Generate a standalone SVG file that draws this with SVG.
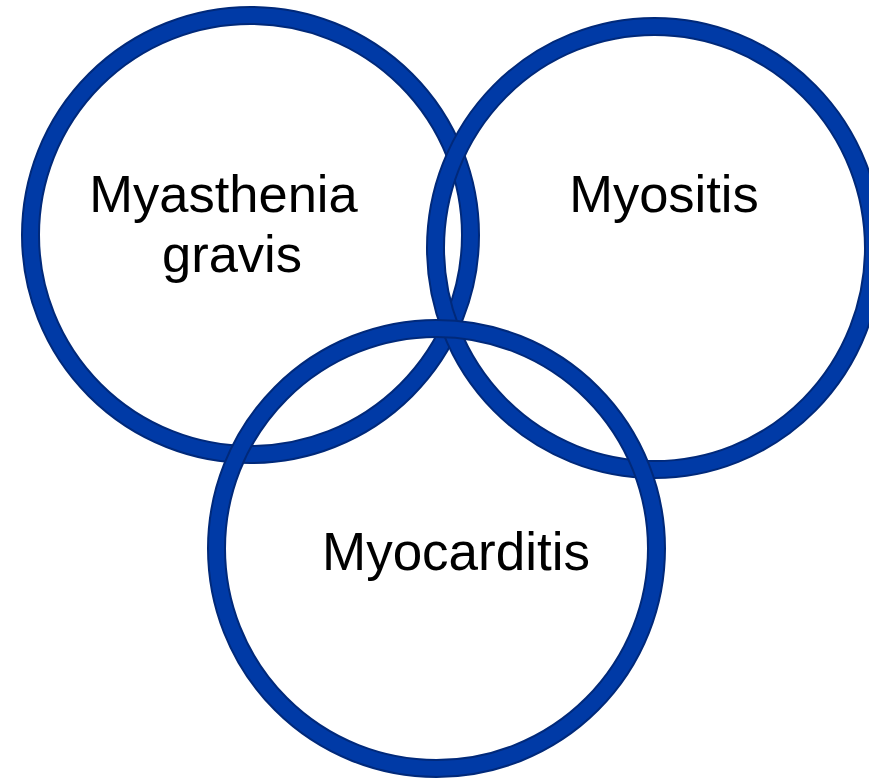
<svg xmlns="http://www.w3.org/2000/svg" width="869" height="779" viewBox="0 0 869 779">
<style>
.outer{fill:none;stroke:#00297a;stroke-width:19}
.inner{fill:none;stroke:#003aa6;stroke-width:15}
.lbl{font-family:"Liberation Sans",Arial,sans-serif;font-size:52.5px;fill:#000;text-anchor:middle}
</style>
<rect width="869" height="779" fill="#fff"/>
<g id="node-mg">
<ellipse class="outer" cx="250.5" cy="235" rx="220" ry="219.5"/>
<ellipse class="inner" cx="250.5" cy="235" rx="220" ry="219.5"/>
</g>
<g id="node-myositis">
<ellipse class="outer" cx="654.5" cy="248" rx="219" ry="221.5"/>
<ellipse class="inner" cx="654.5" cy="248" rx="219" ry="221.5"/>
</g>
<g id="node-myocarditis">
<ellipse class="outer" cx="436.5" cy="548.5" rx="220" ry="220"/>
<ellipse class="inner" cx="436.5" cy="548.5" rx="220" ry="220"/>
</g>
<g id="connectors"></g>
<g id="labels">
<text class="lbl" x="223.5" y="212">Myasthenia</text>
<text class="lbl" x="232" y="272">gravis</text>
<text class="lbl" x="664" y="212">Myositis</text>
<text class="lbl" x="456" y="570" style="font-size:53px">Myocarditis</text>
</g>
</svg>
